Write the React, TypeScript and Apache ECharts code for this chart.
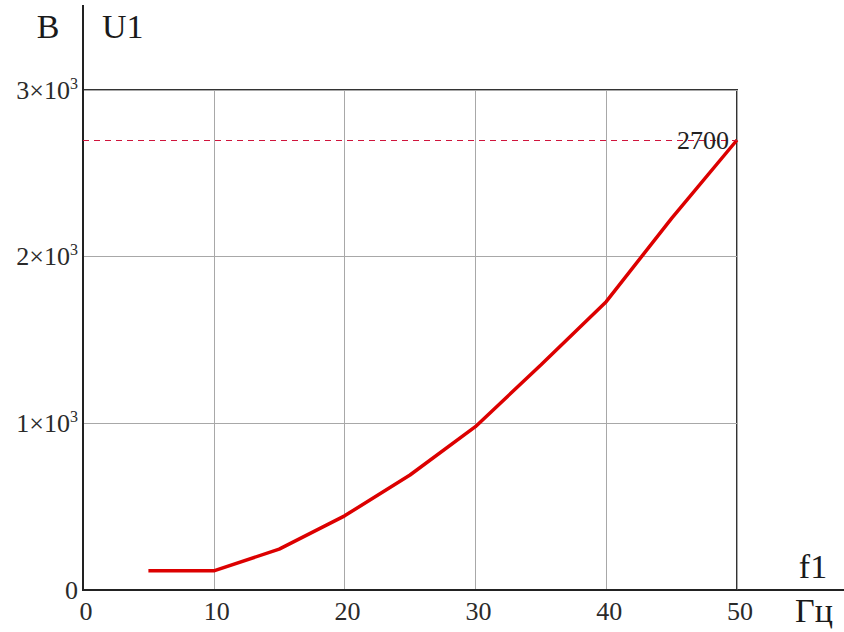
import React, { useEffect, useRef } from "react";
import * as echarts from "echarts";

// Frequency f1 (Гц) and voltage U1 (В)
const freq = [5, 10, 15, 20, 25, 30, 35, 40, 45, 50];
const voltage = [115, 115, 245, 445, 690, 980, 1350, 1730, 2230, 2700];
const refLevel = 2700;
const yTicks = [0, 1000, 2000, 3000];

const SERIF = "Liberation Serif";
const GRID = { left: 83, top: 90, right: 107, bottom: 42 };
const W = 844;
const H = 632;

export default function App() {
  const ref = useRef<HTMLDivElement>(null);

  useEffect(() => {
    if (!ref.current) return;
    const chart = echarts.init(ref.current, null, { renderer: "svg" });
    const axisY = H - GRID.bottom;
    const plotRight = W - GRID.right;

    chart.setOption({
      animation: false,
      backgroundColor: "#ffffff",
      textStyle: { fontFamily: SERIF },
      grid: {
        ...GRID,
        show: true,
        borderColor: "#333333",
        borderWidth: 2,
        containLabel: false,
      },
      xAxis: {
        type: "value",
        min: 0,
        max: 50,
        interval: 10,
        axisLine: { show: true, lineStyle: { color: "#222222", width: 2 } },
        axisTick: { show: false },
        splitLine: { show: true, lineStyle: { color: "#a8a8a8", width: 1 } },
        axisLabel: {
          color: "#2a2a2a",
          fontFamily: SERIF,
          fontSize: 26,
          margin: 8,
          padding: [0, 0, 0, 6],
        },
      },
      yAxis: {
        type: "value",
        min: 0,
        max: 3000,
        interval: 1000,
        axisLine: { show: true, lineStyle: { color: "#222222", width: 2 } },
        axisTick: { show: false },
        splitLine: { show: true, lineStyle: { color: "#a8a8a8", width: 1 } },
        axisLabel: {
          margin: 5,
          fontFamily: SERIF,
          formatter: (v: number) => {
            if (!yTicks.includes(v)) return "";
            if (v === 0) return "{b|0}";
            return `{b|${v / 1000}×10}{sup|3}`;
          },
          rich: {
            b: {
              color: "#2a2a2a",
              fontFamily: SERIF,
              fontSize: 26,
              lineHeight: 30,
            },
            sup: {
              color: "#2a2a2a",
              fontFamily: SERIF,
              fontSize: 16,
              lineHeight: 30,
              verticalAlign: "top",
              padding: [0, 0, 14, 0],
            },
          },
        },
      },
      series: [
        {
          type: "line",
          data: freq.map((f, i) => [f, voltage[i]]),
          showSymbol: false,
          symbol: "none",
          lineStyle: { color: "#dc0000", width: 3.5 },
          silent: true,
          markLine: {
            silent: true,
            symbol: ["none", "none"],
            lineStyle: { color: "#d0143c", width: 1, type: [6, 5] },
            label: {
              show: true,
              position: "insideEnd",
              distance: 8,
              formatter: String(refLevel),
              color: "#222222",
              fontFamily: SERIF,
              fontSize: 26,
            },
            emphasis: { disabled: true },
            data: [{ yAxis: refLevel }],
          },
        },
      ],
      graphic: [
        // axis lines running past the plot frame
        {
          type: "line",
          shape: { x1: GRID.left, y1: 5, x2: GRID.left, y2: GRID.top },
          style: { stroke: "#222222", lineWidth: 2 },
        },
        {
          type: "line",
          shape: { x1: plotRight, y1: axisY, x2: W, y2: axisY },
          style: { stroke: "#222222", lineWidth: 2 },
        },
        {
          type: "text",
          x: 48,
          y: 26,
          style: {
            text: "B",
            fill: "#1a1a1a",
            font: `34px ${SERIF}`,
            textAlign: "center",
            textVerticalAlign: "middle",
          },
        },
        {
          type: "text",
          x: 102,
          y: 26,
          style: {
            text: "U1",
            fill: "#1a1a1a",
            font: `34px ${SERIF}`,
            textAlign: "left",
            textVerticalAlign: "middle",
          },
        },
        {
          type: "text",
          x: 813,
          y: 566,
          style: {
            text: "f1",
            fill: "#1a1a1a",
            font: `34px ${SERIF}`,
            textAlign: "center",
            textVerticalAlign: "middle",
          },
        },
        {
          type: "text",
          x: 814,
          y: 610,
          style: {
            text: "Гц",
            fill: "#1a1a1a",
            font: `34px ${SERIF}`,
            textAlign: "center",
            textVerticalAlign: "middle",
          },
        },
      ],
    });

    return () => chart.dispose();
  }, []);

  return (
    <div
      ref={ref}
      style={{ position: "fixed", left: 0, top: 0, width: W, height: H }}
    />
  );
}
